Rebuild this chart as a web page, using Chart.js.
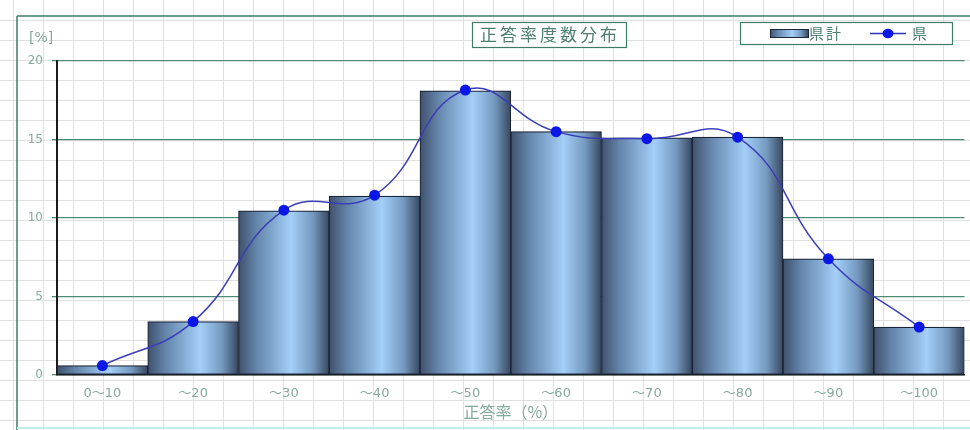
<!DOCTYPE html>
<html>
<head>
<meta charset="utf-8">
<script src="https://cdn.jsdelivr.net/npm/chart.js@4.4.1/dist/chart.umd.min.js"></script>
<style>
  html, body { margin: 0; padding: 0; background: #ffffff; }
  #wrap { width: 970px; height: 430px; position: relative; }
</style>
</head>
<body>
<div id="wrap"><canvas id="c" width="970" height="430"></canvas></div>
<script>
// ---- data ----
const categories = ['0～10', '～20', '～30', '～40', '～50', '～60', '～70', '～80', '～90', '～100'];
const kenkeiValues = [0.6, 3.4, 10.45, 11.4, 18.1, 15.5, 15.1, 15.15, 7.4, 3.05];
const kenValues = [0.6, 3.4, 10.5, 11.45, 18.15, 15.5, 15.05, 15.15, 7.4, 3.05];
const yTicks = [0, 5, 10, 15, 20];
const chartTitle = '正答率度数分布';
const xAxisTitle = '正答率（%）';
const yUnit = '[%]';
const seriesNames = ['県計', '県'];

const labelColor = '#86aa9f';
const titleColor = '#4f7f72';
const frameColor = '#3f7c68';
const FONT = '"DejaVu Sans", "Noto Sans CJK JP", sans-serif';
const JFONT = '"Noto Sans CJK JP", sans-serif';

function barGradient(ctx, x0, x1) {
  const g = ctx.createLinearGradient(x0, 0, x1, 0);
  g.addColorStop(0, '#3f516c');
  g.addColorStop(0.2, '#6585ab');
  g.addColorStop(0.58, '#a3cff9');
  g.addColorStop(0.82, '#7599bf');
  g.addColorStop(1, '#36475e');
  return g;
}

const bgPlugin = {
  id: 'bg',
  beforeDraw(chart) {
    const ctx = chart.ctx;
    const W = chart.width, H = chart.height;
    ctx.save();
    ctx.fillStyle = '#ffffff';
    ctx.fillRect(0, 0, W, H);
    ctx.strokeStyle = '#e0e0e0';
    ctx.lineWidth = 1;
    ctx.beginPath();
    for (let x = 13; x < W; x += 30) { ctx.moveTo(x + 0.5, 0); ctx.lineTo(x + 0.5, H); }
    for (let y = 20; y < H; y += 20) { ctx.moveTo(0, y + 0.5); ctx.lineTo(W, y + 0.5); }
    ctx.stroke();
    // frame
    ctx.strokeStyle = frameColor;
    ctx.lineWidth = 1.5;
    ctx.beginPath();
    ctx.moveTo(17, 16); ctx.lineTo(W, 16);
    ctx.moveTo(17, 16); ctx.lineTo(17, H);
    ctx.stroke();
    ctx.strokeStyle = '#bfeee8';
    ctx.lineWidth = 2;
    ctx.beginPath();
    ctx.moveTo(17, H - 2); ctx.lineTo(W, H - 2);
    ctx.stroke();
    ctx.restore();
  },
  afterDraw(chart) {
    const ctx = chart.ctx;
    ctx.save();
    // unit label
    ctx.fillStyle = labelColor;
    ctx.font = '14px ' + FONT;
    ctx.textBaseline = 'middle';
    ctx.textAlign = 'left';
    ctx.fillText(yUnit, 29, 38);
    // title box
    ctx.fillStyle = '#ffffff';
    ctx.fillRect(472, 22, 154, 25);
    ctx.strokeStyle = frameColor;
    ctx.lineWidth = 1.2;
    ctx.strokeRect(472.5, 22.5, 154, 25);
    ctx.fillStyle = titleColor;
    ctx.font = '17px ' + JFONT;
    ctx.textAlign = 'center';
    ctx.letterSpacing = '3px';
    ctx.fillText(chartTitle, 550, 35);
    // legend box
    ctx.letterSpacing = '2px';
    ctx.fillStyle = '#ffffff';
    ctx.fillRect(740, 22, 212, 22);
    ctx.strokeStyle = frameColor;
    ctx.strokeRect(740.5, 22.5, 212, 22);
    ctx.fillStyle = barGradient(ctx, 770, 808);
    ctx.fillRect(770, 29.5, 38, 8);
    ctx.strokeStyle = '#1b2538';
    ctx.lineWidth = 1;
    ctx.strokeRect(770.5, 29.5, 38, 8);
    ctx.fillStyle = titleColor;
    ctx.font = '15px ' + JFONT;
    ctx.textAlign = 'left';
    ctx.fillText(seriesNames[0], 809, 33);
    ctx.strokeStyle = '#2a32c0';
    ctx.lineWidth = 1.5;
    ctx.beginPath(); ctx.moveTo(870, 33.5); ctx.lineTo(906, 33.5); ctx.stroke();
    ctx.fillStyle = '#0b16e8';
    ctx.beginPath(); ctx.ellipse(888, 33.5, 5.5, 4.8, 0, 0, Math.PI * 2); ctx.fill();
    ctx.fillStyle = titleColor;
    ctx.fillText(seriesNames[1], 912, 33);
    ctx.restore();
  }
};

new Chart(document.getElementById('c'), {
  data: {
    labels: categories,
    datasets: [
      {
        type: 'line',
        label: seriesNames[1],
        data: kenValues,
        order: 0,
        borderColor: '#3a3fb8',
        borderWidth: 1.5,
        tension: 0.45,
        pointRadius: 5.5,
        pointHoverRadius: 5.5,
        pointBackgroundColor: '#0b16e8',
        pointBorderColor: '#0b16e8',
        pointBorderWidth: 0
      },
      {
        type: 'bar',
        label: seriesNames[0],
        data: kenkeiValues,
        order: 1,
        barPercentage: 1,
        categoryPercentage: 1,
        borderColor: '#1b2538',
        borderWidth: 1.2,
        borderSkipped: false,
        backgroundColor: (c) => {
          const chart = c.chart;
          if (!chart.chartArea || c.dataIndex === undefined) return '#8fb8e0';
          const xs = chart.scales.x;
          const cx = xs.getPixelForValue(c.dataIndex);
          const w = xs.getPixelForValue(1) - xs.getPixelForValue(0);
          return barGradient(chart.ctx, cx - w / 2, cx + w / 2);
        }
      }
    ]
  },
  options: {
    responsive: false,
    animation: false,
    events: [],
    layout: { padding: { left: 0, top: 61, right: 5, bottom: 0 } },
    plugins: {
      legend: { display: false },
      title: { display: false },
      tooltip: { enabled: false }
    },
    scales: {
      x: {
        afterFit: (s) => { s.height = 55; },
        grid: { display: false },
        border: { display: true, color: '#1a1a1a', width: 1.5 },
        ticks: { color: labelColor, font: { size: 13, family: FONT }, padding: 3, maxRotation: 0 },
        title: {
          display: true,
          text: xAxisTitle,
          color: labelColor,
          font: { size: 16, family: JFONT },
          padding: { top: 0, bottom: 8 }
        }
      },
      y: {
        min: 0,
        max: 20,
        afterFit: (s) => { s.width = 57; },
        afterBuildTicks: (s) => { s.ticks = yTicks.map(v => ({ value: v })); },
        grid: { color: '#4e8b74', lineWidth: 1.3, tickLength: 5, drawTicks: true, tickColor: '#4e8b74' },
        border: { display: true, color: '#1a1a1a', width: 2 },
        ticks: { color: labelColor, font: { size: 12, family: FONT }, padding: 9, stepSize: 5 }
      }
    }
  },
  plugins: [bgPlugin]
});
</script>
</body>
</html>
